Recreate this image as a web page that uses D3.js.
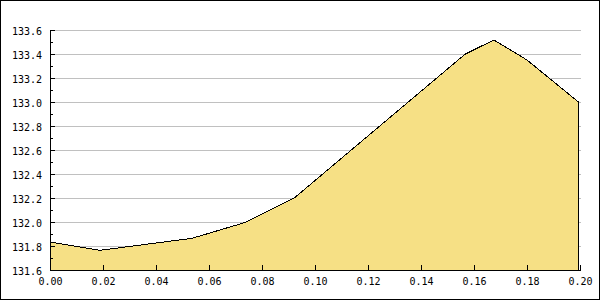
<!DOCTYPE html>
<html>
<head>
<meta charset="utf-8">
<script src="https://cdn.jsdelivr.net/npm/d3@7"></script>
<style>
  body { margin: 0; background: #fff; }
  svg text { font-family: "DejaVu Sans Mono", monospace; font-size: 10px; fill: #000; }
</style>
</head>
<body>
<svg width="600" height="300"></svg>
<script>
// values
const xValues = [0, 0.0189, 0.0536, 0.0736, 0.0925, 0.1566, 0.1675, 0.180, 0.1994];
const yValues = [131.833, 131.764, 131.864, 131.996, 132.206, 133.398, 133.517, 133.35, 133.0];

const xTicks = [0, 0.02, 0.04, 0.06, 0.08, 0.10, 0.12, 0.14, 0.16, 0.18, 0.20];
const yTicks = [131.6, 131.8, 132.0, 132.2, 132.4, 132.6, 132.8, 133.0, 133.2, 133.4, 133.6];
const yMinorTicks = [131.7, 131.9, 132.1, 132.3, 132.5, 132.7, 132.9, 133.1, 133.3, 133.5];

const svg = d3.select('svg');
const width = +svg.attr('width');
const height = +svg.attr('height');

const margin = { top: 30, right: 20, bottom: 30, left: 50 };
const innerWidth = width - margin.left - margin.right;
const innerHeight = height - margin.top - margin.bottom;

const data = xValues.map((x, i) => ({ x: x, y: yValues[i] }));

// outer frame
svg.append('rect')
    .attr('x', 0.5)
    .attr('y', 0.5)
    .attr('width', width - 1)
    .attr('height', height - 1)
    .attr('fill', '#fff')
    .attr('stroke', '#000')
    .attr('shape-rendering', 'crispEdges');

const xScale = d3.scaleLinear()
    .domain([0, 0.2])
    .range([0, innerWidth]);

const yScale = d3.scaleLinear()
    .domain([131.6, 133.6])
    .range([innerHeight, 0]);

const g = svg.append('g')
    .attr('transform', `translate(${margin.left},${margin.top})`);

// horizontal grid
g.append('g')
    .selectAll('line')
    .data(yTicks.slice(1))
    .enter().append('line')
    .attr('x1', 0)
    .attr('x2', innerWidth + 1)
    .attr('y1', d => Math.round(yScale(d)) + 0.5)
    .attr('y2', d => Math.round(yScale(d)) + 0.5)
    .attr('stroke', '#c0c0c0')
    .attr('shape-rendering', 'crispEdges');

const area = d3.area()
    .x(d => xScale(d.x))
    .y0(innerHeight)
    .y1(d => yScale(d.y));

g.append('path')
    .datum(data)
    .attr('d', d => area(d) )
    .attr('fill', '#f6e085')
    .attr('stroke', 'none');

const line = d3.line()
    .x(d => xScale(d.x))
    .y(d => yScale(d.y));

const last = data[data.length - 1];
g.append('path')
    .datum(data.concat([{ x: last.x, y: 131.6 }]))
    .attr('d', line)
    .attr('fill', 'none')
    .attr('stroke', '#000')
    .attr('stroke-width', 1)
    .attr('shape-rendering', 'crispEdges');

// axes, ticks pointing inwards
const yAxis = d3.axisLeft(yScale)
    .tickValues(yTicks)
    .tickFormat(d3.format('.1f'))
    .tickSizeInner(-5)
    .tickSizeOuter(0)
    .tickPadding(8);

const yAxisG = g.append('g').call(yAxis)
    .attr('shape-rendering', 'crispEdges');
yAxisG.selectAll('line').attr('stroke', '#000');
yAxisG.select('.domain').attr('stroke', '#000');
yAxisG.selectAll('text')
    .attr('dy', '0.4em')
    .style('font-family', '"DejaVu Sans Mono", monospace')
    .style('font-size', '10px');

const yMinorAxis = d3.axisLeft(yScale)
    .tickValues(yMinorTicks)
    .tickFormat('')
    .tickSizeInner(-3)
    .tickSizeOuter(0);

const yMinorG = g.append('g').call(yMinorAxis)
    .attr('shape-rendering', 'crispEdges');
yMinorG.select('.domain').remove();
yMinorG.selectAll('line').attr('stroke', '#000');

const xAxis = d3.axisBottom(xScale)
    .tickValues(xTicks)
    .tickFormat(d3.format('.2f'))
    .tickSizeInner(-5)
    .tickSizeOuter(0)
    .tickPadding(8);

const xAxisG = g.append('g').call(xAxis)
    .attr('transform', `translate(0,${innerHeight})`)
    .attr('shape-rendering', 'crispEdges');
xAxisG.selectAll('line').attr('stroke', '#000');
xAxisG.select('.domain').attr('stroke', '#000');
xAxisG.selectAll('text')
    .style('font-family', '"DejaVu Sans Mono", monospace')
    .style('font-size', '10px');
</script>
</body>
</html>
